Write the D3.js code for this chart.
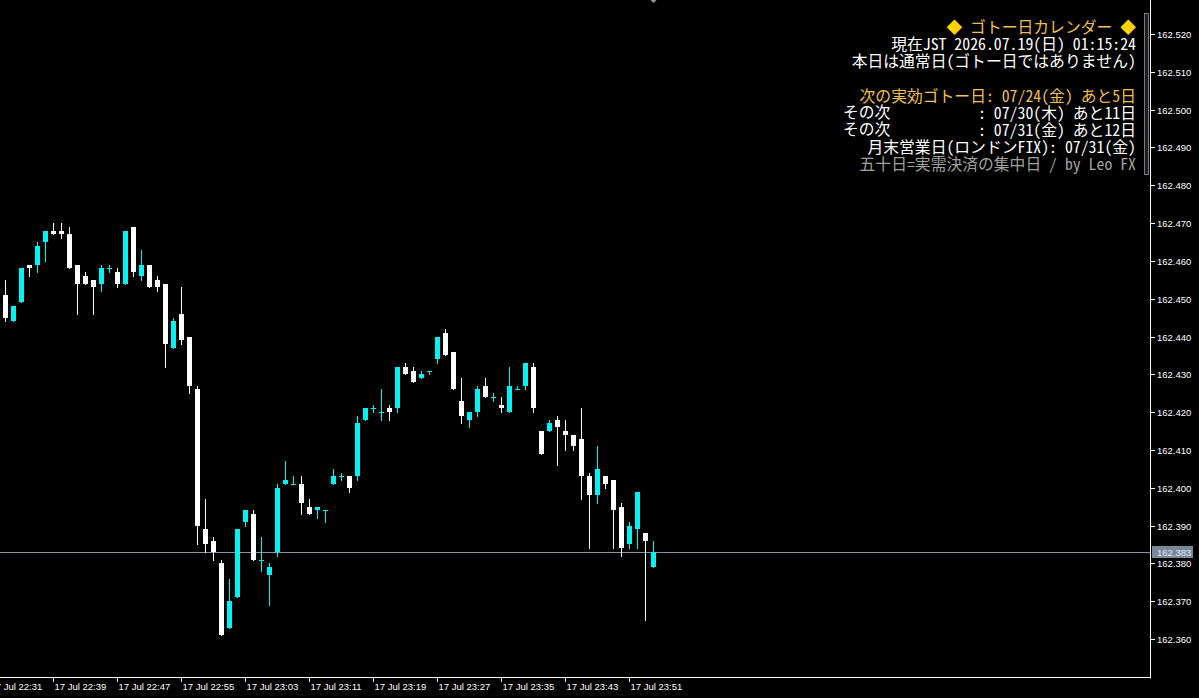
<!DOCTYPE html>
<html>
<head>
<meta charset="utf-8">
<script src="https://cdn.jsdelivr.net/npm/d3@7/dist/d3.min.js"></script>
<style>
html,body{margin:0;padding:0;background:#000;overflow:hidden;}
svg{display:block;}
</style>
</head>
<body>
<svg id="chart" width="1199" height="698"></svg>
<script>
// ---------- DATA ----------
const times = ["22:33","22:34","22:35","22:36","22:37","22:38","22:39","22:40","22:41","22:42",
"22:43","22:44","22:45","22:46","22:47","22:48","22:49","22:50","22:51","22:52",
"22:53","22:54","22:55","22:56","22:57","22:58","22:59","23:00","23:01","23:02",
"23:03","23:04","23:05","23:06","23:07","23:08","23:09","23:10","23:11","23:12",
"23:13","23:14","23:15","23:16","23:17","23:18","23:19","23:20","23:21","23:22",
"23:23","23:24","23:25","23:26","23:27","23:28","23:29","23:30","23:31","23:32",
"23:33","23:34","23:35","23:36","23:37","23:38","23:39","23:40","23:41","23:42",
"23:43","23:44","23:45","23:46","23:47","23:48","23:49","23:50","23:51","23:52",
"23:53","23:54"];

const open = [162.451,162.444,162.449,162.459,162.459,162.465,162.468,162.468,162.467,162.459,
162.456,162.455,162.454,162.458,162.457,162.454,162.469,162.456,162.459,162.455,
162.454,162.437,162.446,162.440,162.426,162.389,162.386,162.380,162.363,162.371,
162.391,162.393,162.381,162.377,162.383,162.401,162.401,162.401,162.395,162.394,
162.394,162.401,162.403,162.403,162.403,162.418,162.421,162.420,162.421,162.421,
162.432,162.431,162.429,162.431,162.434,162.441,162.436,162.423,162.418,162.420,
162.427,162.424,162.422,162.420,162.426,162.427,162.432,162.415,162.415,162.418,
162.415,162.414,162.413,162.403,162.398,162.403,162.402,162.395,162.385,162.389,
162.388,162.379];

const high = [162.455,162.448,162.458,162.459,162.465,162.468,162.470,162.470,162.469,162.459,
162.457,162.455,162.459,162.459,162.458,162.468,162.469,162.463,162.459,162.456,
162.454,162.445,162.453,162.440,162.427,162.397,162.387,162.381,162.376,162.389,
162.394,162.394,162.387,162.380,162.401,162.407,162.403,162.403,162.397,162.395,
162.394,162.405,162.404,162.403,162.419,162.421,162.422,162.426,162.422,162.432,
162.433,162.432,162.431,162.431,162.440,162.442,162.436,162.429,162.420,162.427,
162.429,162.425,162.424,162.432,162.427,162.433,162.433,162.415,162.418,162.419,
162.418,162.414,162.421,162.404,162.411,162.403,162.402,162.396,162.391,162.399,
162.388,162.386];

const low = [162.444,162.444,162.449,162.456,162.457,162.460,162.467,162.466,162.458,162.446,
162.454,162.446,162.452,162.457,162.453,162.454,162.456,162.455,162.453,162.452,
162.432,162.437,162.438,162.425,162.385,162.383,162.381,162.361,162.363,162.371,
162.390,162.381,162.378,162.369,162.382,162.401,162.401,162.393,162.393,162.392,
162.391,162.401,162.402,162.399,162.402,162.418,162.420,162.418,162.418,162.420,
162.430,162.428,162.429,162.430,162.433,162.435,162.426,162.417,162.416,162.419,
162.424,162.423,162.420,162.420,162.426,162.426,162.420,162.409,162.415,162.406,
162.410,162.410,162.397,162.384,162.396,162.400,162.384,162.382,162.384,162.384,
162.365,162.379];

const close = [162.445,162.448,162.458,162.458,162.464,162.468,162.467,162.467,162.458,162.454,
162.454,162.453,162.458,162.458,162.454,162.468,162.457,162.459,162.453,162.453,
162.438,162.444,162.439,162.427,162.390,162.385,162.383,162.361,162.370,162.389,
162.394,162.381,162.381,162.379,162.400,162.402,162.401,162.396,162.393,162.395,
162.394,162.403,162.403,162.400,162.417,162.421,162.421,162.420,162.420,162.432,
162.430,162.428,162.430,162.431,162.440,162.435,162.426,162.419,162.420,162.426,
162.424,162.424,162.421,162.427,162.426,162.433,162.421,162.409,162.417,162.416,
162.414,162.411,162.403,162.398,162.405,162.401,162.394,162.384,162.390,162.399,
162.386,162.383];

const priceTicks = [162.360,162.370,162.380,162.390,162.400,162.410,162.420,162.430,162.440,
162.450,162.460,162.470,162.480,162.490,162.500,162.510,162.520];

const timeTickLabels = ["17 Jul 22:31","17 Jul 22:39","17 Jul 22:47","17 Jul 22:55","17 Jul 23:03",
"17 Jul 23:11","17 Jul 23:19","17 Jul 23:27","17 Jul 23:35","17 Jul 23:43","17 Jul 23:51"];

const bidPrice = 162.383;

const panelLines = [
  {parts:[["◆","#FFD200"],[" ゴトー日カレンダー ","#F0C050"],["◆","#FFD200"]]},
  {parts:[["現在JST 2026.07.19(日) 01:15:24","#FFFFFF"]]},
  {parts:[["本日は通常日(ゴトー日ではありません)","#FFFFFF"]]},
  {parts:[]},
  {parts:[["次の実効ゴトー日: 07/24(金) あと5日","#F0C050"]]},
  {left:"その次", parts:[[": 07/30(木) あと11日","#FFFFFF"]]},
  {left:"その次", parts:[[": 07/31(金) あと12日","#FFFFFF"]]},
  {parts:[["月末営業日(ロンドンFIX): 07/31(金)","#FFFFFF"]]},
  {parts:[["五十日=実需決済の集中日 / by Leo FX","#A0A0A0"]]}
];

// ---------- CHART ----------
const W = 1199, H = 698;
const axisX = 1151, axisY = 678;
const svg = d3.select("#chart");
svg.append("rect").attr("width",W).attr("height",H).attr("fill","#000");

const parseT = d3.timeParse("%H:%M");
const x = d3.scaleTime()
  .domain([parseT(times[0]), parseT(times[times.length-1])])
  .range([5.5, 5.5 + 8*(times.length-1)]);
const y = d3.scaleLinear().domain([162.360, 162.520]).range([639, 34]);

const UP = "#00F5F5", DOWN = "#FFFFFF";
const bars = times.map((t,i)=>({t:parseT(t), o:open[i], h:high[i], l:low[i], c:close[i]}));

svg.append("clipPath").attr("id","clip").append("rect")
  .attr("x",0).attr("y",0).attr("width",axisX).attr("height",axisY);
const plot = svg.append("g").attr("clip-path","url(#clip)");

// bid line
const by = Math.round(y(bidPrice)) + 0.5;
plot.append("line").attr("x1",0).attr("x2",axisX).attr("y1",by).attr("y2",by)
  .attr("stroke","#8a949e").attr("stroke-width",1);

const cg = plot.selectAll("g.c").data(bars).enter().append("g");
cg.append("rect")
  .attr("x", d=>Math.floor(x(d.t)))
  .attr("y", d=>Math.round(y(d.h)))
  .attr("width",1)
  .attr("height", d=>Math.max(1, Math.round(y(d.l)) - Math.round(y(d.h)) + 1))
  .attr("fill", d=> d.c>=d.o ? UP : DOWN);
cg.append("rect")
  .attr("x", d=>Math.floor(x(d.t)) - 2)
  .attr("y", d=>Math.round(y(Math.max(d.o,d.c))))
  .attr("width",5)
  .attr("height", d=>Math.max(1, Math.round(y(Math.min(d.o,d.c))) - Math.round(y(Math.max(d.o,d.c)))))
  .attr("fill", d=> d.c>=d.o ? UP : DOWN);

// small shift marker on top
const mx = Math.floor(x(bars[bars.length-1].t)) + 0.5;
svg.append("path").attr("d",`M${mx-3},0 L${mx+3},0 L${mx},3 Z`).attr("fill","#9a9a9a");

// axes lines
svg.append("line").attr("x1",axisX-0.5).attr("x2",axisX-0.5).attr("y1",0).attr("y2",axisY+0.5)
  .attr("stroke","#FFFFFF").attr("stroke-width",1);
svg.append("line").attr("x1",0).attr("x2",axisX).attr("y1",axisY-0.5).attr("y2",axisY-0.5)
  .attr("stroke","#FFFFFF").attr("stroke-width",1);

// price axis
const yAxis = d3.axisRight(y).tickValues(priceTicks).tickFormat(d3.format(".3f")).tickSize(4).tickPadding(2);
const ya = svg.append("g").attr("transform",`translate(${axisX},0.5)`).call(yAxis);
ya.select(".domain").remove();
ya.selectAll(".tick").attr("transform", d=>`translate(0,${Math.round(y(d))})`);
ya.selectAll("line").attr("stroke","#FFFFFF");
ya.selectAll("text").attr("fill","#FFFFFF").attr("font-family","Liberation Sans, Arial, sans-serif")
  .attr("font-size","9.5px").attr("x",6);

// time axis
const tickTimes = timeTickLabels.map(s=>parseT(s.slice(-5)));
const xAxis = d3.axisBottom(x).tickValues(tickTimes).tickSize(5)
  .tickFormat((d,i)=>timeTickLabels[i]);
const xa = svg.append("g").attr("transform",`translate(0,${axisY-1})`).call(xAxis);
xa.select(".domain").remove();
xa.selectAll(".tick").attr("transform", d=>`translate(${Math.floor(x(d))+0.5},0)`);
xa.selectAll("line").attr("stroke","#FFFFFF");
xa.selectAll("text").attr("fill","#FFFFFF").attr("font-family","Liberation Sans, Arial, sans-serif")
  .attr("font-size","9.5px").attr("text-anchor","start").attr("x",1).attr("y",6).attr("dy","0.71em");

// bid price label
const lg = svg.append("g");
lg.append("rect").attr("x",axisX+1).attr("y",by-6.5).attr("width",41).attr("height",12).attr("fill","#778899");
lg.append("text").attr("x",axisX+6).attr("y",by).attr("dominant-baseline","central")
  .attr("fill","#e4e9ef").attr("font-family","Liberation Sans, Arial, sans-serif").attr("font-size","9.5px")
  .text(d3.format(".3f")(bidPrice));

// panel scrollbar-like box
svg.append("rect").attr("x",1144.5).attr("y",13.5).attr("width",4).attr("height",161)
  .attr("fill","#1c1f26").attr("stroke","#7a7a7a").attr("stroke-width",1);

// info panel
const panelFont = "'Noto Sans Mono CJK JP','Noto Sans CJK JP',monospace";
const right = 1136, top0 = 25.7, lh = 17.2;
panelLines.forEach((ln,i)=>{
  const yy = top0 + i*lh;
  if (ln.left) {
    svg.append("text").attr("x",843).attr("y",yy).attr("dominant-baseline","central")
      .attr("font-family",panelFont).attr("font-size","15.8px").attr("fill","#FFFFFF").text(ln.left);
  }
  if (ln.parts.length) {
    const t = svg.append("text").attr("x",right).attr("y",yy).attr("text-anchor","end")
      .attr("dominant-baseline","central").attr("font-family",panelFont).attr("font-size","15.8px")
      .style("white-space","pre");
    ln.parts.forEach(p=>t.append("tspan").attr("fill",p[1]).text(p[0]));
  }
});
</script>
</body>
</html>
